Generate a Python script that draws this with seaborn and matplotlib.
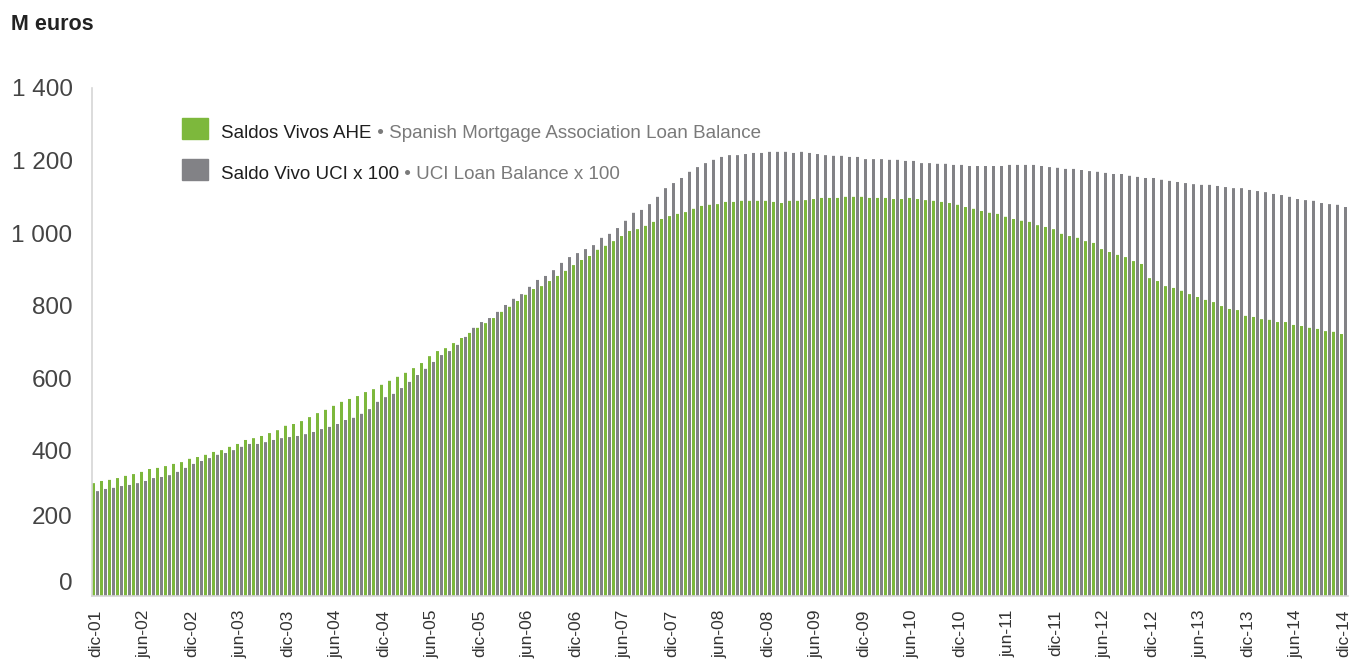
import pandas as pd
import seaborn as sns
import matplotlib.pyplot as plt
from matplotlib.patches import Rectangle
from matplotlib.transforms import ScaledTranslation

# -------------------------------------------------------
# DATA (M euros, monthly, dic-01 .. dic-14)
# -------------------------------------------------------
ahe = [311, 317, 320, 325, 331, 336, 342, 350, 353, 358, 364, 369, 378, 383, 389, 397,
       402, 411, 419, 430, 435, 441, 449, 457, 469, 474, 482, 493, 504, 513, 524,
       535, 543, 551, 562, 570, 582, 593, 604, 615, 628, 642, 661, 675, 683, 697, 711,
       725, 739, 752, 766, 783, 797, 813, 830, 846, 854, 868, 882, 896, 912, 926,
       937, 954, 965, 978, 992, 1006, 1011, 1020, 1031, 1039, 1047, 1053, 1058, 1067,
       1075, 1078, 1080, 1086, 1086, 1089, 1089, 1089, 1089, 1086, 1083, 1089, 1089,
       1091, 1094, 1097,
       1097, 1097, 1100, 1100, 1100, 1097, 1097, 1097, 1094, 1094, 1097, 1094, 1091,
       1089, 1086, 1083, 1078, 1072, 1067, 1061, 1056, 1053, 1045, 1039, 1034, 1031,
       1022, 1017, 1011, 998, 992,
       987, 978, 973, 956, 948, 940, 934, 923, 915, 876, 868, 854, 849, 841, 832, 824,
       816, 810, 799, 791, 788, 772, 769, 763, 761, 755, 755, 747, 744, 739, 736, 730,
       728, 722]

uci = [289, 295, 298, 303, 306, 311, 317, 325, 328, 333, 342, 353, 364, 372, 380, 389,
       394, 402, 411, 419, 419, 424, 430, 435, 438, 441, 446, 452, 460, 466, 474,
       485, 491, 502, 515, 535, 548, 557, 573, 590, 609, 626, 645, 664, 675, 692, 714,
       739, 755, 766, 783, 802, 819, 832, 852, 871, 882, 898, 918, 934, 945,
       956, 967, 987, 998, 1014, 1034, 1056, 1064, 1080, 1100, 1124, 1138, 1152, 1169,
       1182, 1193, 1202, 1210, 1215, 1215, 1218, 1221, 1221, 1224, 1224, 1224, 1221,
       1224, 1221, 1218, 1215,
       1213, 1213, 1210, 1210, 1204, 1204, 1204, 1202, 1202, 1199, 1199, 1193, 1193,
       1191, 1191, 1188, 1188, 1185, 1185, 1185, 1185, 1185, 1188, 1188, 1188, 1188,
       1185, 1182, 1180, 1177, 1177,
       1174, 1171, 1169, 1166, 1163, 1163, 1158, 1155, 1152, 1152, 1147, 1144, 1141,
       1138, 1135, 1133,
       1133, 1130, 1127, 1124, 1124, 1119, 1116, 1113, 1108, 1105, 1100, 1094, 1091,
       1089, 1083, 1080, 1078, 1072]

x_labels = ['dic-01', 'jun-02', 'dic-02', 'jun-03', 'dic-03', 'jun-04', 'dic-04',
            'jun-05', 'dic-05', 'jun-06', 'dic-06', 'jun-07', 'dic-07', 'jun-08',
            'dic-08', 'jun-09', 'dic-09', 'jun-10', 'dic-10', 'jun-11', 'dic-11',
            'jun-12', 'dic-12', 'jun-13', 'dic-13', 'jun-14', 'dic-14']

y_ticks = [0, 200, 400, 600, 800, 1000, 1200, 1400]
y_labels = ['0', '200', '400', '600', '800', '1 000', '1 200', '1 400']

GREEN = '#7db83c'
GREY = '#828286'

n = len(ahe)
df = pd.DataFrame({
    'mes': list(range(n)) * 2,
    'saldo': ahe + uci,
    'serie': ['AHE'] * n + ['UCI'] * n,
})

# -------------------------------------------------------
# PLOT
# -------------------------------------------------------
sns.set_style('white')
plt.rcParams['font.family'] = ['Liberation Sans', 'DejaVu Sans']

fig = plt.figure(figsize=(13.49, 6.68), dpi=100)
ax = fig.add_axes([92 / 1349, 1 - 596 / 668, 1256 / 1349, 508 / 668])

sns.barplot(data=df, x='mes', y='saldo', hue='serie', hue_order=['AHE', 'UCI'],
            palette={'AHE': GREEN, 'UCI': GREY}, width=1.0, gap=0.25,
            saturation=1, linewidth=0, errorbar=None, legend=False, ax=ax)

# keep every bar exactly 3 px wide (no pixel snapping jitter)
for p in ax.patches:
    p.set_snap(False)

ax.set_xlim(-0.4375, n - 0.4375)
ax.set_ylim(0, 1400)
ax.set_xlabel('')
ax.set_ylabel('')

ax.set_xticks([i for i in range(0, n, 6)])
ax.set_xticklabels(x_labels, rotation=90, fontsize=12.5, color='#333333')
ax.tick_params(axis='x', length=0, pad=10)

ax.set_yticks(y_ticks)
ax.set_yticklabels(y_labels, fontsize=17.5, color='#444444')
ax.tick_params(axis='y', direction='in', length=22, width=1.5, color='#dadada', pad=14)

# the two lowest labels sit a bit above their tick in the original
ylbls = ax.get_yticklabels()
for lbl, dy in [(ylbls[0], 14), (ylbls[1], 8)]:
    lbl.set_transform(lbl.get_transform() + ScaledTranslation(0, dy / 100, fig.dpi_scale_trans))

sns.despine(ax=ax, top=True, right=True)
for side in ['left', 'bottom']:
    ax.spines[side].set_color('#d6d6d6')
    ax.spines[side].set_linewidth(1.2)

# title
fig.text(11 / 1349, 1 - 25 / 668, 'M euros', fontsize=15.5, fontweight='bold',
         color='#222222', va='center', ha='left')

# legend (two-tone labels)
rows = [(GREEN, 118, 'Saldos Vivos AHE', ' • Spanish Mortgage Association Loan Balance'),
        (GREY, 159, 'Saldo Vivo UCI x 100', ' • UCI Loan Balance x 100')]
for color, top, dark, light in rows:
    fig.add_artist(Rectangle((182 / 1349, 1 - (top + 21) / 668), 26 / 1349, 21 / 668,
                             transform=fig.transFigure, color=color))
    t1 = fig.text(221 / 1349, 1 - (top + 20) / 668, dark, fontsize=13.5,
                  color='#1e1e1e', va='baseline', ha='left')
    ax.annotate(light, xy=(1, 0), xycoords=t1, va='bottom', ha='left',
                fontsize=13.5, color='#7a7a7a')

fig.savefig('out.png', dpi=100)
